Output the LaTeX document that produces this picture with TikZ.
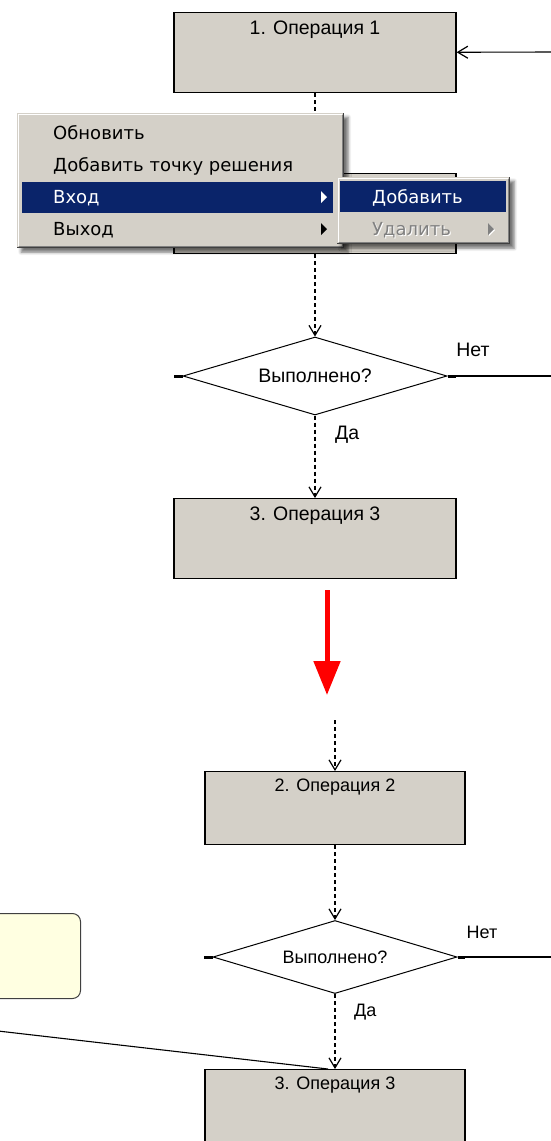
\documentclass[tikz,border=0pt]{standalone}
\usepackage{fontspec}
\setmainfont{Liberation Sans}
\newfontfamily\menufont{DejaVu Sans}
\usetikzlibrary{shapes.geometric,arrows.meta,calc,shadows.blur}
\definecolor{wingray}{HTML}{D4D0C8}
\definecolor{menublue}{HTML}{0A246A}
\definecolor{notefill}{HTML}{FFFFE1}
\definecolor{edgedark}{HTML}{404040}
\definecolor{edgemid}{HTML}{808080}
\definecolor{arrowred}{HTML}{FF0000}

\begin{document}
\begin{tikzpicture}[x=1pt,y=-1pt,
  opbox/.style={draw=black, line width=1.3pt, fill=wingray, inner xsep=0pt, anchor=north},
  optop/.style={opbox, minimum width=282pt, minimum height=80pt, inner ysep=8pt,
    text height=14pt, text depth=50pt, font=\fontsize{19.5}{22}\selectfont},
  opbot/.style={opbox, minimum width=260pt, minimum height=73pt, inner ysep=7pt,
    text height=13pt, text depth=46pt, font=\fontsize{18}{21}\selectfont},
  decision/.style={diamond, draw=black, line width=1pt, fill=white, inner sep=0pt},
  flow/.style={draw=black, line width=1.1pt, dash pattern=on 4pt off 3pt,
    -{Straight Barb[length=10pt,width=12pt,line width=1.2pt]}},
  solidlink/.style={draw=black, line width=1.1pt},
  port/.style={draw=black, line width=3pt},
  flowlabel/.style={inner sep=0pt},
  menupanel/.style={fill=wingray, draw=none, inner sep=0pt, anchor=north west,
    blur shadow={shadow xshift=4pt, shadow yshift=-4pt, shadow blur radius=3pt, shadow opacity=55}},
  menuitem/.style={inner sep=0pt, anchor=base west, font=\menufont\fontsize{18}{21}\selectfont},
]
\useasboundingbox (0,0) rectangle (550,1141);

% ---------- upper flowchart ----------
\node[optop] (b1) at (315,12) {1. Операция 1};
\node[optop] (b2) at (315,173) {};
\node[decision, minimum width=264pt, minimum height=78pt, aspect=3.4,
      font=\fontsize{19.5}{22}\selectfont] (d1) at (315,376) {Выполнено?};
\node[optop] (b3) at (315,498) {3. Операция 3};

\coordinate (in1) at (552,52);
\draw[solidlink, -{Straight Barb[length=10pt,width=12pt,line width=1.2pt]}] (in1) -- (b1);
\draw[flow] (b1) -- (b2);
\draw[flow] (b2) -- (d1);
\draw[flow] (d1) -- (b3);
\coordinate (no1) at (552,376);
\draw[solidlink] (d1.east) -- (no1);
\draw[port] (d1.east) -- ++(8,0);
\draw[port] (d1.west) -- ++(-9,0);
\node[flowlabel, font=\fontsize{19.5}{22}\selectfont] (no1lbl) at (473,350) {Нет};
\node[flowlabel, anchor=base west, font=\fontsize{19.5}{22}\selectfont] (yes1lbl) at (335,439) {Да};

% ---------- context menu ----------
\node[menupanel, minimum width=327pt, minimum height=135pt] (menu) at (17,113) {};
\draw[white, line width=1pt] ($(menu.south west)+(1.5,-2)$) |- ($(menu.north east)+(-2,1.5)$);
\draw[edgedark, line width=1pt] ($(menu.south west)+(0,-0.5)$) -| ($(menu.north east)+(-0.5,0)$);
\draw[edgemid, line width=1pt] ($(menu.south west)+(1.5,-1.5)$) -| ($(menu.north east)+(-1.5,1.5)$);
\fill[menublue] (22,182) rectangle (333,213);
\node[menuitem] (m1) at (53,139) {Обновить};
\node[menuitem] (m2) at (53,171) {Добавить точку решения};
\node[menuitem, text=white] (m3) at (53,203) {Вход};
\node[menuitem] (m4) at (53,235) {Выход};
\fill[white] (321,191) -- (327,197) -- (321,203) -- cycle;
\fill[black] (321,223) -- (327,229) -- (321,235) -- cycle;

% ---------- submenu ----------
\node[menupanel, minimum width=173pt, minimum height=67pt] (sub) at (337,177) {};
\draw[white, line width=1pt] ($(sub.south west)+(1.5,-2)$) |- ($(sub.north east)+(-2,1.5)$);
\draw[edgedark, line width=1pt] ($(sub.south west)+(0,-0.5)$) -| ($(sub.north east)+(-0.5,0)$);
\draw[edgemid, line width=1pt] ($(sub.south west)+(1.5,-1.5)$) -| ($(sub.north east)+(-1.5,1.5)$);
\fill[menublue] (340,181) rectangle (506,212);
\node[menuitem, text=white] (s1) at (372,203) {Добавить};
\node[menuitem, text=white] at (373,236) {Удалить};
\node[menuitem, text=edgemid] (s2) at (372,235) {Удалить};
\fill[white] (489,224) -- (495,230) -- (489,236) -- cycle;
\fill[edgemid] (488,223) -- (494,229) -- (488,235) -- cycle;

% ---------- transition arrow ----------
\coordinate (ra) at (327,590);
\coordinate (rb) at (327,695);
\draw[arrowred, line width=5pt, -{Triangle[length=34pt,width=26pt]}] (ra) -- (rb);

% ---------- lower flowchart ----------
\coordinate (top2) at (335,720);
\node[opbot] (b2b) at (335,771) {2. Операция 2};
\node[decision, minimum width=244pt, minimum height=73pt, aspect=3.3,
      font=\fontsize{18}{21}\selectfont] (d2) at (335,957) {Выполнено?};
\node[opbot] (b3b) at (335,1069) {3. Операция 3};
\node[draw=edgedark, line width=1pt, fill=notefill, rounded corners=8pt,
      minimum width=110pt, minimum height=85pt, anchor=north east] (note) at (81,913) {};

\draw[flow] (top2) -- (b2b);
\draw[flow] (b2b) -- (d2);
\draw[flow] (d2) -- (b3b);
\coordinate (no2) at (552,957);
\draw[solidlink] (d2.east) -- (no2);
\draw[port] (d2.east) -- ++(7,0);
\draw[port] (d2.west) -- ++(-9,0);
\node[flowlabel, font=\fontsize{18}{21}\selectfont] (no2lbl) at (482,932) {Нет};
\node[flowlabel, anchor=base west, font=\fontsize{18}{21}\selectfont] (yes2lbl) at (354,1016) {Да};
\coordinate (lnk) at (-2,1031);
\draw[solidlink] (lnk) -- ([xshift=-7pt]b3b.north);
\end{tikzpicture}
\end{document}
